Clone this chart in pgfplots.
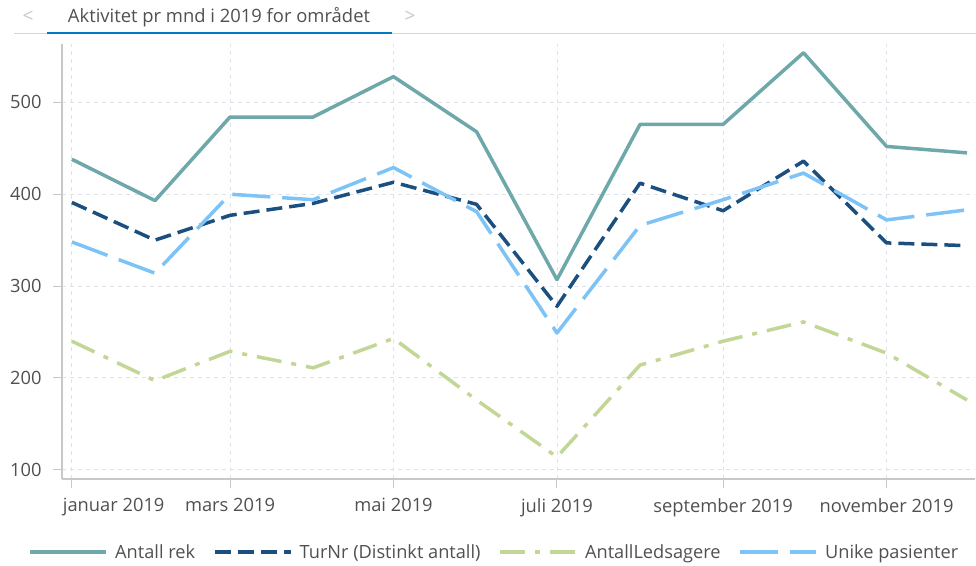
\documentclass[border=0pt]{standalone}
\usepackage{fontspec}
\setmainfont{Open Sans}
\usepackage{pgfplots}
\pgfplotsset{compat=1.18}
\definecolor{cteal}{RGB}{111,168,170}
\definecolor{cdark}{RGB}{27,79,128}
\definecolor{cgreen}{RGB}{194,214,150}
\definecolor{clight}{RGB}{125,195,245}
\definecolor{cgrid}{RGB}{222,226,234}
\definecolor{caxis}{RGB}{200,200,200}
\definecolor{ctext}{RGB}{80,80,80}
\definecolor{ctab}{RGB}{0,121,193}
\definecolor{csep}{RGB}{215,215,215}
\begin{document}
\begin{tikzpicture}[x=1pt,y=1pt]
\useasboundingbox (0,0) rectangle (976,565);
\draw[color=csep, line width=1pt] (14,531) -- (976,531);
\draw[color=ctab, line width=2.6pt] (47,532) -- (392,532);
\node[text=ctext, font=\fontsize{18.4}{21}\selectfont] at (219,548) {Aktivitet pr mnd i 2019 for området};
\node[text=caxis, font=\fontsize{19}{21}\selectfont] at (28,548) {<};
\node[text=caxis, font=\fontsize{19}{21}\selectfont] at (410,548) {>};
\begin{axis}[
  at={(62pt,86pt)}, anchor=south west,
  scale only axis, width=913pt, height=435pt,
  xmin=-3.7, xmax=337, ymin=90, ymax=563.5,
  axis lines*=left,
  axis line style={draw=caxis, line width=1.5pt},
  tick align=outside, major tick length=9pt,
  tick style={draw=caxis, line width=1pt},
  grid=major,
  major grid style={draw=cgrid, line width=0.9pt, dash pattern=on 4pt off 4pt},
  xtick={0,59,120,181,243,304},
  xticklabels={\makebox[18pt][l]{januar 2019}, mars 2019, mai 2019, juli 2019, september 2019, november 2019},
  ytick={100,200,300,400,500},
  tick label style={font=\fontsize{18.3}{21}\selectfont, text=ctext},
  xticklabel style={yshift=-7pt},
  yticklabel style={xshift=-8pt},
  /pgf/number format/assume math mode=true,
  legend style={draw=none, fill=none, legend columns=-1,
    at={(0.4737,-0.1678)}, anchor=center,
    font=\fontsize{18.2}{21}\selectfont, text=ctext,
    /tikz/every odd column/.append style={column sep=5pt},
    /tikz/every even column/.append style={column sep=16pt}},
  legend image code/.code={\draw[#1] (0pt,0pt) -- (76pt,0pt);},
  every axis plot/.append style={line width=3.5pt, line join=round},
]
\addplot[color=cteal] coordinates {(0,438) (31,393) (59,484) (90,484) (120,528) (151,468) (181,307) (212,476) (243,476) (273,554) (304,452) (334,445)};
\addlegendentry{Antall rek}
\addplot[color=cdark, dash pattern=on 16pt off 7pt] coordinates {(0,391) (31,350) (59,377) (90,390) (120,413) (151,389) (181,278) (212,412) (243,382) (273,436) (304,347) (334,344)};
\addlegendentry{TurNr (Distinkt antall)}
\addplot[color=cgreen, dash pattern=on 25pt off 10pt on 5pt off 10pt] coordinates {(0,240) (31,197) (59,229) (90,211) (120,243) (151,176) (181,114) (212,214) (243,240) (273,261) (304,227) (334,176)};
\addlegendentry{AntallLedsagere}
\addplot[color=clight, dash pattern=on 38pt off 12pt] coordinates {(0,348) (31,314) (59,400) (90,394) (120,429) (151,381) (181,249) (212,366) (243,394) (273,423) (304,372) (334,383)};
\addlegendentry{Unike pasienter}
\end{axis}
\end{tikzpicture}
\end{document}
